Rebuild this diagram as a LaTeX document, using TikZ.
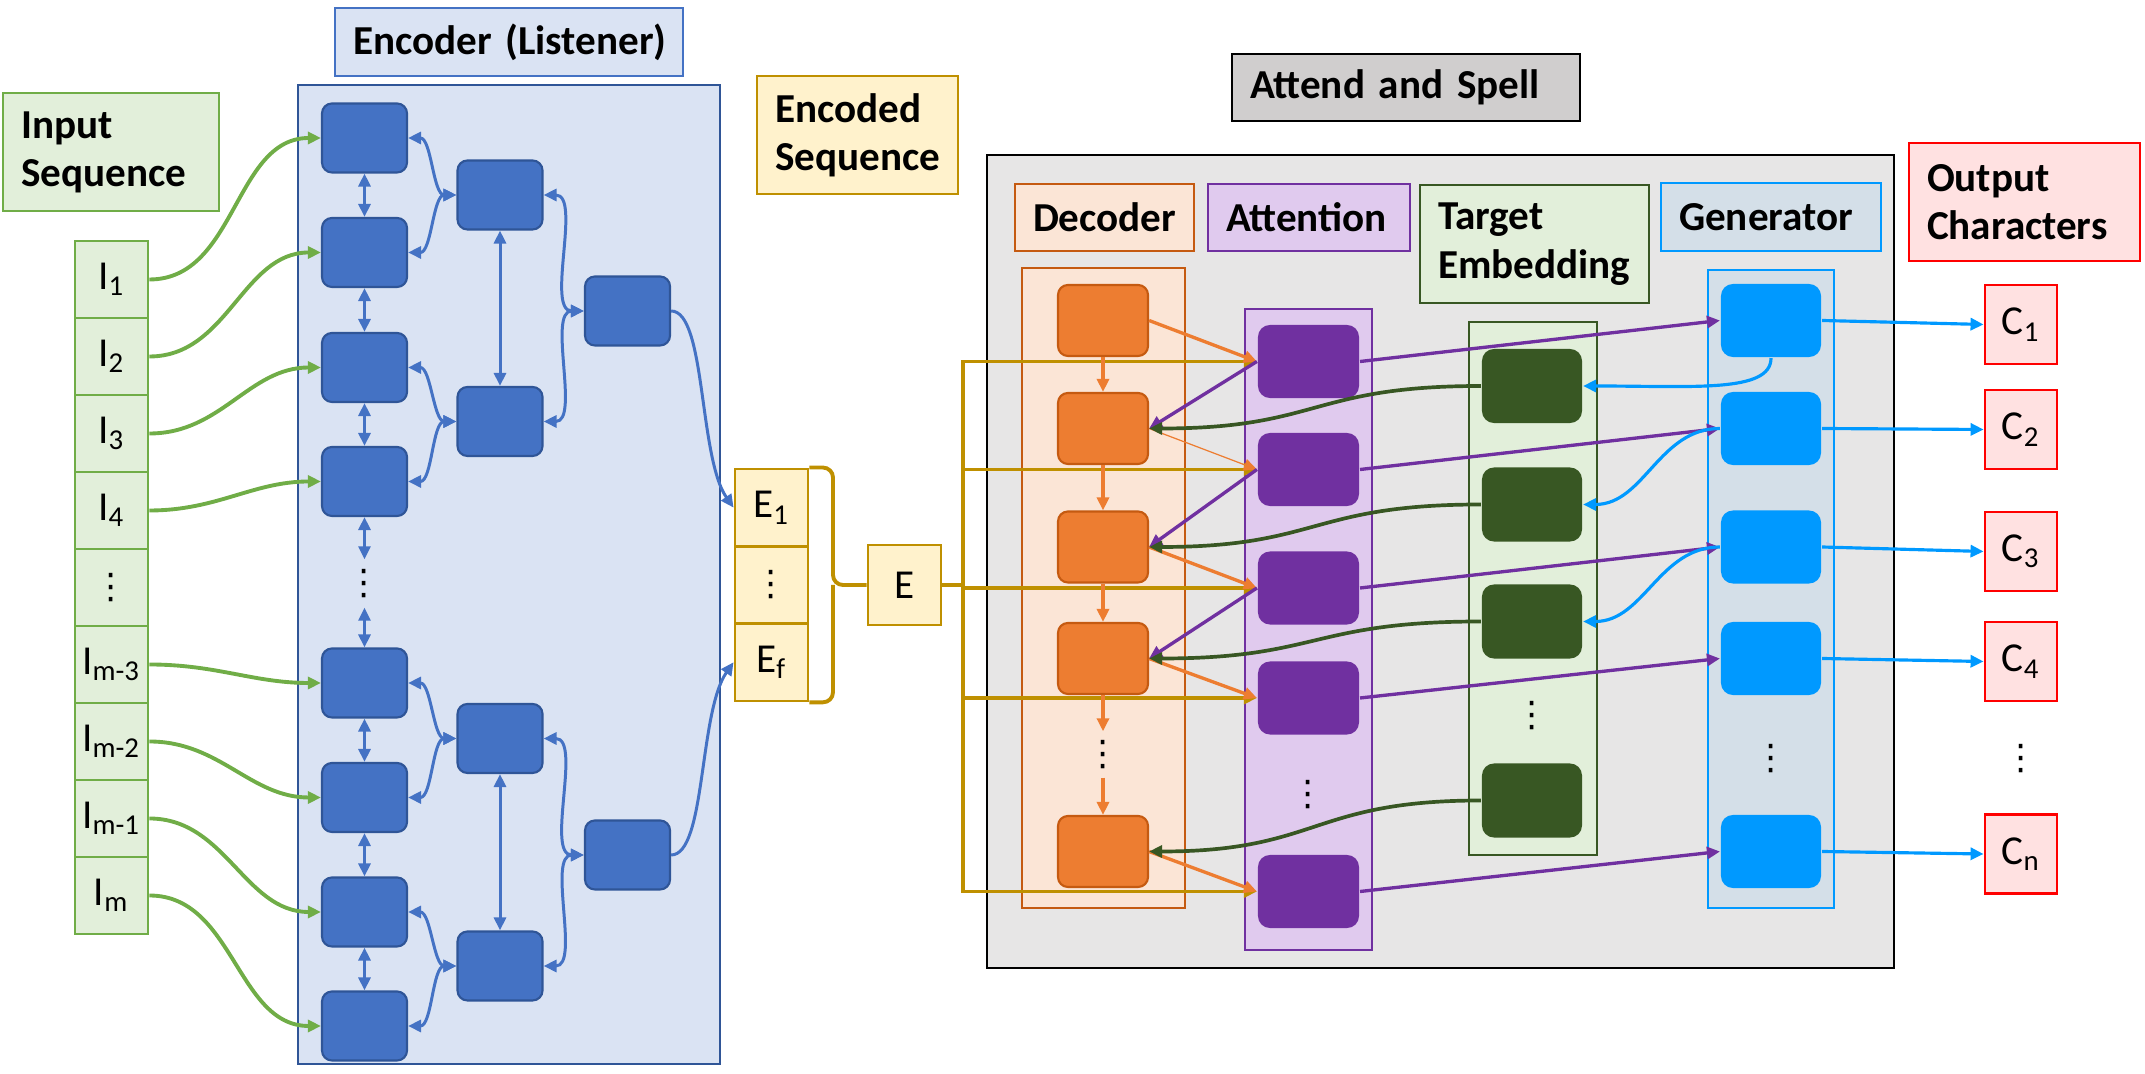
\documentclass[tikz,border=0pt]{standalone}
\usepackage{fontspec}
\setmainfont{Carlito}
\newfontfamily\symfont{DejaVu Sans}
\usetikzlibrary{arrows.meta,calc}
\definecolor{EncFill}{HTML}{DAE3F3}
\definecolor{EncLine}{HTML}{2F5597}
\definecolor{EncBlue}{HTML}{4472C4}
\definecolor{InGreen}{HTML}{70AD47}
\definecolor{InFill}{HTML}{E2EFDA}
\definecolor{GoldLine}{HTML}{BF9000}
\definecolor{GoldFill}{HTML}{FFF2CC}
\definecolor{DecOrange}{HTML}{ED7D31}
\definecolor{DecLine}{HTML}{C55A11}
\definecolor{DecFill}{HTML}{FBE5D6}
\definecolor{AttPurple}{HTML}{7030A0}
\definecolor{AttFill}{HTML}{E0CAEE}
\definecolor{EmbGreen}{HTML}{385723}
\definecolor{GenBlue}{HTML}{0099FF}
\definecolor{GenFill}{HTML}{D4DFE8}
\definecolor{OutRed}{HTML}{FF0000}
\definecolor{OutFill}{HTML}{FFE1E1}
\definecolor{SpellFill}{HTML}{E7E6E6}
\definecolor{SpellTitle}{HTML}{D0CECE}
\hyphenpenalty=10000
\exhyphenpenalty=10000
\newcommand{\colDots}{{\symfont\fontsize{10}{10}\selectfont ⋮}}

\begin{document}
\begin{tikzpicture}[
    x=0.01cm, y=-0.01cm,
    >={Triangle[length=0.13cm,width=0.12cm]},
    font=\fontsize{11.7}{13.7}\selectfont,
    headbox/.style 2 args={draw, line width=0.6pt, anchor=north west,
        inner xsep=0.18cm, inner ysep=0pt, text width=#1, minimum height=#2,
        align=left, font=\fontsize{11.7}{13.7}\selectfont\bfseries},
    block/.style={rounded corners=0.1cm, inner sep=0pt, line width=0.6pt},
    encnode/.style={block, draw=EncLine, fill=EncBlue, minimum width=0.85cm, minimum height=0.69cm},
    decnode/.style={block, draw=DecLine, fill=DecOrange, minimum width=0.9cm, minimum height=0.71cm},
    attnode/.style={block, fill=AttPurple, rounded corners=0.12cm, minimum width=1.01cm, minimum height=0.73cm},
    embnode/.style={block, fill=EmbGreen, rounded corners=0.12cm, minimum width=1cm, minimum height=0.74cm},
    gennode/.style={block, fill=GenBlue, rounded corners=0.12cm, minimum width=1cm, minimum height=0.73cm},
    incell/.style={draw=InGreen, fill=InFill, line width=0.8pt, inner sep=0pt, minimum width=0.73cm, minimum height=0.77cm},
    ecell/.style={draw=GoldLine, fill=GoldFill, line width=0.8pt, inner sep=0pt, minimum width=0.73cm, minimum height=0.773cm},
    charbox/.style={draw=OutRed, fill=OutFill, line width=0.8pt, inner sep=0pt, minimum width=0.72cm, minimum height=0.79cm},
    dotnode/.style={inner sep=0pt, minimum width=0.2cm, minimum height=#1},
    inlink/.style={InGreen, line width=1.1pt, ->},
    enclink/.style={EncBlue, line width=0.85pt},
    goldlink/.style={GoldLine, line width=1.1pt},
    declink/.style={DecOrange, line width=0.95pt, ->},
    attlink/.style={AttPurple, line width=0.95pt, ->},
    emblink/.style={EmbGreen, line width=1.05pt, ->},
    genlink/.style={GenBlue, line width=0.9pt, ->}
 ]
\def\encA{364.5}
\def\encB{500}
\def\encC{627.5}
\def\decX{1103}
\def\attX{1308.5}
\def\embX{1532}
\def\genX{1771}
\def\outX{2021}

\useasboundingbox (0,0) rectangle (2145,1074);
\draw[EncLine, fill=EncFill, line width=0.8pt] (298,85) rectangle (720,1064);
\draw[black, fill=SpellFill, line width=0.7pt] (987,155) rectangle (1894,968);
\draw[DecLine, fill=DecFill, line width=0.6pt] (1022,268) rectangle (1185,908);
\draw[AttPurple, fill=AttFill, line width=0.6pt] (1245,309) rectangle (1372,950);
\draw[EmbGreen, fill=InFill, line width=0.6pt] (1469,322) rectangle (1597,855);
\draw[GenBlue, fill=GenFill, line width=0.6pt] (1708,270) rectangle (1834,908);

\node[headbox={1.8cm}{1.18cm}, draw=InGreen, fill=InFill] (inhead) at (2,92) {Input\\Sequence};
\node[headbox={3.12cm}{0.68cm}, draw=EncBlue, fill=EncFill] (enchead) at (334,7) {\mbox{Encoder (Listener)}};
\node[headbox={1.65cm}{1.18cm}, draw=GoldLine, fill=GoldFill] (seqhead) at (756,75) {Encoded\\Sequence};
\node[headbox={3.12cm}{0.67cm}, draw=black, fill=SpellTitle] (spellhead) at (1231,53) {Attend and Spell};
\node[headbox={1.43cm}{0.67cm}, draw=DecLine, fill=DecFill] (dechead) at (1014,183) {Decoder};
\node[headbox={1.66cm}{0.67cm}, draw=AttPurple, fill=AttFill] (atthead) at (1207,183) {Attention};
\node[headbox={1.93cm}{1.18cm}, draw=EmbGreen, fill=InFill] (embhead) at (1419,184) {Target\\Embedding};
\node[headbox={1.84cm}{0.68cm}, draw=GenBlue, fill=GenFill] (genhead) at (1660,182) {Generator};
\node[headbox={1.95cm}{1.18cm}, draw=OutRed, fill=OutFill] (outhead) at (1908,142) {Output\\Characters};

\foreach \i/\txt in {1/I\textsubscript{1},2/I\textsubscript{2},3/I\textsubscript{3},4/I\textsubscript{4},5/\colDots,6/I\textsubscript{m-3},7/I\textsubscript{m-2},8/I\textsubscript{m-1},9/I\textsubscript{m}} {
    \node[incell] (in\i) at (111.5,{241+77*(\i-0.5)}) {\txt};
}
\foreach \i/\txt in {1/E\textsubscript{1},2/\colDots,3/E\textsubscript{f}} {
    \node[ecell] (ec\i) at (771.5,{469+77.3*(\i-0.5)}) {\txt};
}
\node[ecell, minimum height=0.8cm] (E) at (904.5,585) {E};

\foreach \i/\y in {1/138,2/252.5,3/367.5,4/481.5,5/683,6/797.5,7/912,8/1026} {
    \node[encnode] (e\i) at (\encA,\y) {};
}
\foreach \i/\y in {1/195,2/421.5,3/738.5,4/966} {
    \node[encnode] (f\i) at (\encB,\y) {};
}
\node[encnode] (g1) at (\encC,311) {};
\node[encnode] (g2) at (\encC,855) {};
\node[dotnode=0.47cm] (edots) at (\encA,583.5) {\colDots};

\foreach \a/\b in {1/1,2/2,3/3,4/4,6/5,7/6,8/7,9/8} {
    \draw[inlink] (in\a.east) to[out=0,in=180] (e\b.west);
}
\foreach \a/\b in {e1/e2,e2/e3,e3/e4,e4/edots,edots/e5,e5/e6,e6/e7,e7/e8,f1/f2,f3/f4} {
    \draw[enclink,<->] (\a.south) -- (\b.north);
}
\foreach \a/\b in {e1/f1,e2/f1,e3/f2,e4/f2,e5/f3,e6/f3,e7/f4,e8/f4,f1/g1,f2/g1,f3/g2,f4/g2} {
    \draw[enclink,<->] (\a.east) to[out=0,in=180,looseness=0.8] (\b.west);
}
\draw[enclink,->] (g1.east) .. controls +(35,0) and +(-35,-50) .. (ec1.west);
\draw[enclink,->] (g2.east) .. controls +(35,0) and +(-35,50) .. (ec3.west);

\coordinate (brace) at (833,585);
\draw[goldlink, rounded corners=0.1cm] (ec1.north east) -| (brace) -- (E.west);
\draw[goldlink, rounded corners=0.1cm] (ec3.south east) -| (brace);

\foreach \i/\y in {1/320.5,2/428.5,3/547,4/658.5,5/851.5} {
    \node[decnode] (dec\i) at (\decX,\y) {};
    \node[gennode] (gen\i) at (\genX,\y) {};
}
\foreach \i/\y in {1/361.5,2/469.5,3/588,4/698,5/891.5} {
    \node[attnode] (att\i) at (\attX,\y) {};
}
\foreach \i/\y in {1/386,2/504.5,3/621.5,4/800.5} {
    \node[embnode] (emb\i) at (\embX,\y) {};
}
\foreach \i/\y/\txt in {1/324.5/C\textsubscript{1},2/429.5/C\textsubscript{2},3/551.5/C\textsubscript{3},4/661.5/C\textsubscript{4},5/854/C\textsubscript{n}} {
    \node[charbox] (c\i) at (\outX,\y) {\txt};
}
\node[dotnode=0.45cm] (ddots) at (\decX,754.5) {\colDots};
\node[dotnode=0.3cm] (adots) at (\attX,795) {\colDots};
\node[dotnode=0.3cm] (edots2) at (\embX,716) {\colDots};
\node[dotnode=0.3cm] (gdots) at (\genX,759) {\colDots};
\node[dotnode=0.3cm] (cdots) at (\outX,759) {\colDots};

\coordinate (bus) at (963,585);
\foreach \i in {1,...,5} {
    \draw[goldlink,->] (E.east) -- (bus) |- (att\i.west);
}
\foreach \a/\b in {dec1/dec2,dec2/dec3,dec3/dec4,dec4/ddots,ddots/dec5} {
    \draw[declink] (\a.south) -- (\b.north);
}
\foreach \i in {1,3,4,5} {
    \draw[declink] (dec\i.east) -- (att\i.west);
}
\draw[declink, line width=0.35pt] (dec2.east) -- (att2.west);
\foreach \i/\j in {1/2,2/3,3/4} {
    \draw[attlink] (att\i.west) -- (dec\j.east);
}
\foreach \i/\j in {1/2,2/3,3/4,4/5} {
    \draw[emblink] (emb\i.west) to[out=180,in=0,looseness=1.3] (dec\j.east);
}
\foreach \i in {1,...,5} {
    \draw[attlink] (att\i.east) -- (gen\i.west);
    \draw[genlink] (gen\i.east) -- (c\i.west);
}
\draw[genlink] (gen1.south) .. controls +(0,35) and +(110,0) .. (emb1.east);
\draw[genlink] (gen2.west) to[out=180,in=0] (emb2.east);
\draw[genlink] (gen3.west) to[out=180,in=0] (emb3.east);

\end{tikzpicture}
\end{document}
